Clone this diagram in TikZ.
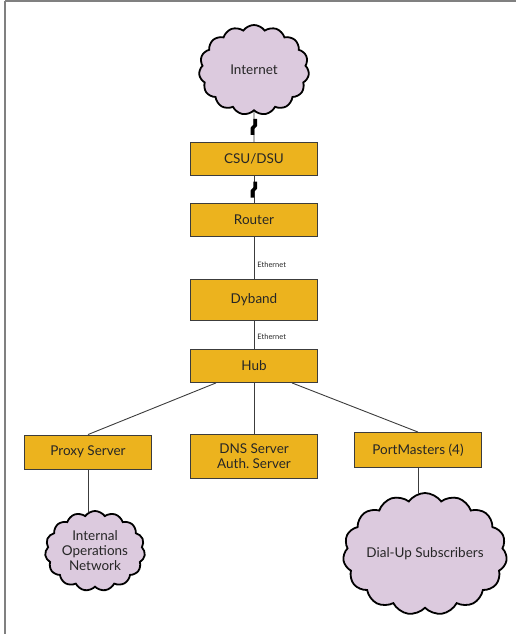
\documentclass[tikz,border=0pt]{standalone}
\usepackage{fontspec}
\setmainfont{Lato}
\usetikzlibrary{shapes.symbols,decorations.markings}
\definecolor{boxgold}{RGB}{236,179,30}
\definecolor{cloudlilac}{RGB}{220,202,222}
\definecolor{linegray}{RGB}{60,60,60}
\begin{document}
\begin{tikzpicture}[every node/.style={font=\fontsize{13.5}{15}\selectfont,text=black!85},
    box/.style={draw=linegray,fill=boxgold,line width=0.9pt,minimum width=127pt,minimum height=33pt,align=center},
    net/.style={cloud,cloud puffs=15,cloud puff arc=110,cloud ignores aspect,draw=black,line width=1.8pt,fill=cloudlilac,inner sep=0pt,align=center},
    link/.style={draw=linegray,line width=0.9pt},
    bolt/.style={postaction={decorate},decoration={markings,mark=at position 0.5 with {\draw[line width=3.6pt,black] (-8pt,1.2pt) -- (-1.5pt,1.2pt) -- (1.5pt,-1.5pt) -- (8pt,-1.5pt);}}},
    eth/.style={font=\fontsize{7.5}{8}\selectfont,right,inner sep=3pt}]
    \useasboundingbox (0,0) rectangle (516pt,-634pt);
    \draw [gray,line width=1.4pt] (5pt,-1pt) -- (516pt,-1pt);
    \draw [gray,line width=1.4pt] (5pt,-1pt) -- (5pt,-634pt);
    \node [net,minimum width=110pt,minimum height=90pt] (internet) at (254pt,-70pt) {Internet};
    \node [box,below of=internet,node distance=89pt] (csu) {CSU/DSU};
    \node [box,below of=csu,node distance=61pt] (router) {Router};
    \node [box,below of=router,node distance=80pt,minimum height=41pt] (dyband) {Dyband};
    \node [box,below of=dyband,node distance=66pt] (hub) {Hub};
    \node [box,below of=hub,node distance=90pt,minimum height=44pt] (dns) {DNS Server\\Auth.\ Server};
    \node [box,left of=dns,node distance=166pt,yshift=4pt,minimum height=34pt] (proxy) {Proxy Server};
    \node [box,right of=dns,node distance=164pt,yshift=6pt,minimum height=35pt] (ports) {PortMasters (4)};
    \node [net,below of=proxy,node distance=99pt,xshift=7pt,minimum width=100pt,minimum height=80pt] (internal) {Internal\\Operations\\Network};
    \node [net,below of=ports,node distance=104pt,xshift=7pt,minimum width=150pt,minimum height=122pt] (dialup) {Dial-Up Subscribers};
    \draw [link,bolt] (internet) -- (csu);
    \draw [link,bolt] (csu) -- (router);
    \draw [link] (router) -- node [eth,pos=0.65] {Ethernet} (dyband);
    \draw [link] (dyband) -- node [eth,pos=0.55] {Ethernet} (hub);
    \draw [link] (hub.204) -- (proxy.north);
    \draw [link] (hub) -- (dns);
    \draw [link] (hub.336) -- (ports.north);
    \draw [link] (proxy) -- ([yshift=-2pt]proxy |- internal.north);
    \draw [link] (ports) -- ([yshift=-2pt]ports |- dialup.north);
\end{tikzpicture}
\end{document}
